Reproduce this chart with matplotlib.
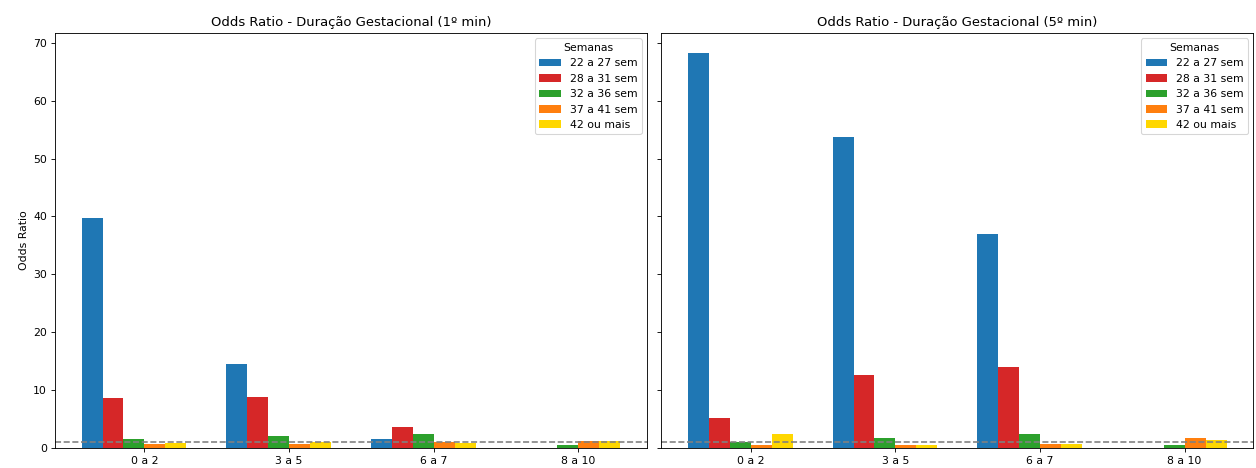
import numpy as np
from matplotlib import pyplot as plt

faixas = ["0 a 2", "3 a 5", "6 a 7", "8 a 10"]
semanas = ["22 a 27 sem", "28 a 31 sem", "32 a 36 sem", "37 a 41 sem", "42 ou mais"]
cores = ["#1f77b4", "#d62728", "#2ca02c", "#ff7f0e", "#ffd700"]

# odds ratio por faixa de apgar, uma lista por grupo de semanas
or_1min = [
    [39.8, 14.5, 1.5, 0.0],
    [8.7, 8.8, 3.6, 0.0],
    [1.6, 2.1, 2.35, 0.46],
    [0.63, 0.63, 1.0, 1.26],
    [0.9, 1.1, 0.8, 1.26],
]
or_5min = [
    [68.3, 53.8, 36.9, 0.0],
    [5.2, 12.6, 14.0, 0.0],
    [1.03, 1.78, 2.47, 0.46],
    [0.5, 0.46, 0.69, 1.67],
    [2.36, 0.46, 0.63, 1.38],
]


def plot_or(ax, dados, titulo):
    x = np.arange(len(faixas))
    w = 0.145
    for i in range(len(semanas)):
        ax.bar(x + (i - 2.5) * w, dados[i], w, color=cores[i], label=semanas[i])
    ax.axhline(1, color="gray", linestyle="--")
    ax.set_xticks(x)
    ax.set_xticklabels(faixas)
    ax.set_title(titulo)
    ax.legend(title="Semanas", loc="upper right")


if __name__ == '__main__':
    fig, axes = plt.subplots(1, 2, figsize=(16, 5.962), dpi=78.5, sharey=True)
    plot_or(axes[0], or_1min, "Odds Ratio - Duração Gestacional (1º min)")
    plot_or(axes[1], or_5min, "Odds Ratio - Duração Gestacional (5º min)")
    axes[0].set_ylabel("Odds Ratio")
    fig.subplots_adjust(left=0.0435, right=0.998, bottom=0.043, top=0.9295, wspace=0.0236)
    fig.savefig("out.png")
